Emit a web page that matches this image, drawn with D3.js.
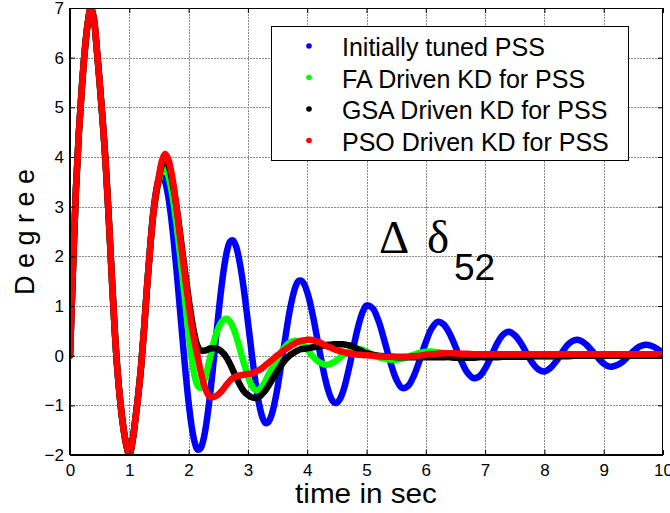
<!DOCTYPE html>
<html>
<head>
<meta charset="utf-8">
<script src="https://cdn.jsdelivr.net/npm/d3@7/dist/d3.min.js"></script>
<style>
  html, body { margin: 0; padding: 0; background: #fff; }
  svg { display: block; }
  text { font-family: "Liberation Sans", Arial, sans-serif; fill: #000; }
</style>
</head>
<body>
<svg id="chart" width="670" height="513"></svg>
<script>
// Rotor angle deviation Δδ52 (degrees) after a disturbance, four PSS tunings.
// Samples every 0.05 s up to 4.95 s, then every 0.1 s up to 10 s.
const time = d3.range(100).map(i => +(i * 0.05).toFixed(2))
  .concat(d3.range(51).map(i => +(5 + i * 0.1).toFixed(1)));

// First swing (0 – 1.35 s) is common to every controller.
const firstSwing = [0, 1.75, 3.35, 4.5, 5.4, 6.15, 6.7, 7.0, 6.8, 6.2,
  5.5, 4.75, 3.9, 2.85, 1.7, 0.6, -0.3, -0.95, -1.45, -1.8,
  -2.0, -1.75, -1.3, -0.8, -0.2, 0.55, 1.4, 2.15];

const initialTuned = firstSwing.concat([
  2.85, 3.3, 3.55, 3.6, 3.51, 3.25, 2.84, 2.30, 1.67, 0.99,
  0.30, -0.36, -0.94, -1.41, -1.73, -1.89, -1.87, -1.69, -1.36, -0.91,
  -0.37, 0.22, 0.80, 1.34, 1.79, 2.12, 2.30, 2.32, 2.20, 1.95,
  1.60, 1.17, 0.68, 0.19, -0.29, -0.71, -1.04, -1.26, -1.36, -1.33,
  -1.19, -0.95, -0.64, -0.27, 0.12, 0.51, 0.87, 1.16, 1.38, 1.50,
  1.51, 1.44, 1.28, 1.06, 0.78, 0.47, 0.15, -0.16, -0.45, -0.68,
  -0.85, -0.94, -0.95, -0.88, -0.74, -0.53, -0.28, 0.00, 0.28, 0.54,
  0.76, 0.92,
  1.01, 0.96, 0.71, 0.31, -0.12, -0.47, -0.65, -0.61, -0.40, -0.08,
  0.27, 0.55, 0.68, 0.63, 0.45, 0.18, -0.11, -0.34, -0.45, -0.42,
  -0.26, -0.02, 0.24, 0.42, 0.48, 0.41, 0.26, 0.05, -0.15, -0.28,
  -0.32, -0.25, -0.11, 0.07, 0.23, 0.31, 0.31, 0.23, 0.10, -0.04,
  -0.16, -0.22, -0.20, -0.14, -0.03, 0.09, 0.18, 0.22, 0.20, 0.14,
  0.05]);

const faDriven = firstSwing.concat([
  2.8, 3.22, 3.52, 3.74, 3.8, 3.66, 3.4, 3.05, 2.6, 2.1,
  1.55, 1.0, 0.45, -0.05, -0.4, -0.6, -0.65, -0.55, -0.35, -0.1,
  0.15, 0.38, 0.55, 0.67, 0.73, 0.74, 0.68, 0.57, 0.4, 0.2,
  -0.02, -0.22, -0.42, -0.57, -0.67, -0.7, -0.67, -0.6, -0.5, -0.38,
  -0.27, -0.16, -0.05, 0.05, 0.14, 0.21, 0.26, 0.29, 0.3, 0.29,
  0.25, 0.2, 0.13, 0.05, -0.02, -0.08, -0.13, -0.16, -0.18, -0.18,
  -0.16, -0.13, -0.09, -0.04, 0.01, 0.05, 0.09, 0.12, 0.14, 0.14,
  0.13, 0.11,
  0.08, 0.02, -0.03, -0.06, -0.08, -0.08, -0.06, -0.02, 0.02, 0.06,
  0.08, 0.08, 0.07, 0.05, 0.02, 0.0, -0.02, -0.03, -0.03, -0.02,
  -0.01, 0.0, 0.01, 0.02, 0.02, 0.02, 0.01, 0.0, 0.0, -0.01,
  -0.01, -0.01, 0.0, 0.0, 0.01, 0.01, 0.01, 0.0, 0.0, 0.0,
  0.0, 0.0, 0.0, 0.0, 0.0, 0.0, 0.0, 0.0, 0.0, 0.0,
  0.0]);

const gsaDriven = firstSwing.concat([
  2.8, 3.25, 3.58, 3.85, 3.95, 3.87, 3.66, 3.35, 2.97, 2.52,
  2.05, 1.6, 1.15, 0.75, 0.42, 0.2, 0.11, 0.1, 0.11, 0.14,
  0.15, 0.15, 0.13, 0.09, 0.03, -0.06, -0.17, -0.3, -0.43, -0.55,
  -0.66, -0.74, -0.79, -0.83, -0.85, -0.85, -0.82, -0.76, -0.69, -0.6,
  -0.5, -0.4, -0.3, -0.21, -0.13, -0.06, 0.0, 0.04, 0.08, 0.11,
  0.13, 0.14, 0.15, 0.16, 0.17, 0.18, 0.19, 0.2, 0.21, 0.22,
  0.22, 0.23, 0.23, 0.23, 0.23, 0.22, 0.21, 0.19, 0.16, 0.13,
  0.1, 0.07,
  0.05, 0.02, 0.0, -0.01, -0.02, -0.03, -0.03, -0.03, -0.03, -0.03,
  -0.03, -0.03, -0.03, -0.03, -0.03, -0.04, -0.04, -0.04, -0.04, -0.03,
  -0.03, -0.03, -0.03, -0.02, -0.02, -0.02, -0.02, -0.02, -0.01, -0.01,
  -0.01, -0.01, -0.01, -0.01, -0.01, 0.0, 0.0, 0.0, 0.0, 0.0,
  0.0, 0.0, 0.0, 0.0, 0.0, 0.0, 0.0, 0.0, 0.0, 0.0,
  0.0]);

const psoDriven = firstSwing.concat([
  2.8, 3.28, 3.62, 3.92, 4.06, 3.98, 3.75, 3.4, 2.95, 2.45,
  1.98, 1.5, 1.05, 0.62, 0.28, 0.0, -0.3, -0.55, -0.72, -0.82,
  -0.84, -0.82, -0.78, -0.72, -0.65, -0.57, -0.5, -0.45, -0.42, -0.4,
  -0.39, -0.38, -0.37, -0.36, -0.34, -0.31, -0.28, -0.24, -0.19, -0.14,
  -0.09, -0.04, 0.01, 0.05, 0.1, 0.14, 0.18, 0.22, 0.25, 0.28,
  0.3, 0.31, 0.32, 0.32, 0.31, 0.29, 0.27, 0.24, 0.21, 0.18,
  0.16, 0.13, 0.11, 0.09, 0.08, 0.06, 0.05, 0.04, 0.03, 0.02,
  0.02, 0.01,
  0.01, 0.0, -0.01, -0.02, -0.02, -0.02, -0.02, -0.02, -0.01, 0.0,
  0.02, 0.03, 0.04, 0.05, 0.05, 0.05, 0.04, 0.04, 0.03, 0.03,
  0.03, 0.03, 0.03, 0.03, 0.03, 0.03, 0.03, 0.03, 0.03, 0.03,
  0.03, 0.03, 0.03, 0.03, 0.03, 0.03, 0.03, 0.03, 0.03, 0.03,
  0.03, 0.03, 0.03, 0.03, 0.03, 0.03, 0.03, 0.03, 0.03, 0.03,
  0.03]);

const seriesNames = ["Initially tuned PSS", "FA Driven KD for PSS",
  "GSA Driven KD for PSS", "PSO Driven KD for PSS"];
const seriesColors = ["#0000ff", "#00ff00", "#000000", "#ff0000"];
const seriesValues = [initialTuned, faDriven, gsaDriven, psoDriven];

const xTicks = [0, 1, 2, 3, 4, 5, 6, 7, 8, 9, 10];
const yTicks = [-2, -1, 0, 1, 2, 3, 4, 5, 6, 7];

const svg = d3.select("#chart");
const W = 670, H = 513;
const m = { left: 70, right: 7, top: 8, bottom: 58 };
const pw = W - m.left - m.right, ph = H - m.top - m.bottom;

svg.append("rect").attr("width", W).attr("height", H).attr("fill", "#fff");

const x = d3.scaleLinear().domain([0, 10]).range([m.left, m.left + pw]);
const y = d3.scaleLinear().domain([-2, 7]).range([m.top + ph, m.top]);

// dotted grid
const grid = svg.append("g").attr("stroke", "#8a8a8a").attr("stroke-width", 1)
  .attr("stroke-dasharray", "1.5,1.5").attr("shape-rendering", "crispEdges");
grid.selectAll("line.gx").data(xTicks.slice(1, -1)).join("line")
  .attr("x1", d => Math.round(x(d)) + 0.5).attr("x2", d => Math.round(x(d)) + 0.5)
  .attr("y1", m.top).attr("y2", m.top + ph);
grid.selectAll("line.gy").data(yTicks.slice(1, -1)).join("line")
  .attr("y1", d => Math.round(y(d)) + 0.5).attr("y2", d => Math.round(y(d)) + 0.5)
  .attr("x1", m.left).attr("x2", m.left + pw);

// curves
svg.append("clipPath").attr("id", "plotClip").append("rect")
  .attr("x", m.left).attr("y", m.top).attr("width", pw).attr("height", ph);

const line = d3.line()
  .x((d, i) => x(time[i]))
  .y(d => y(d))
  .curve(d3.curveCatmullRom.alpha(0.5));

svg.append("g").attr("clip-path", "url(#plotClip)")
  .selectAll("path").data(seriesValues).join("path")
  .attr("d", d => line(d))
  .attr("fill", "none")
  .attr("stroke", (d, i) => seriesColors[i])
  .attr("stroke-width", 6.5)
  .attr("stroke-linecap", "round")
  .attr("stroke-linejoin", "round");

// axes with inward ticks
const tickLen = 5;
const bottom = svg.append("g").attr("transform", `translate(0,${m.top + ph})`)
  .call(d3.axisBottom(x).tickValues(xTicks).tickSizeInner(-tickLen).tickSizeOuter(0).tickPadding(9));
const left = svg.append("g").attr("transform", `translate(${m.left},0)`)
  .call(d3.axisLeft(y).tickValues(yTicks).tickSizeInner(-tickLen).tickSizeOuter(0).tickPadding(6));
svg.append("g").attr("transform", `translate(0,${m.top})`)
  .call(d3.axisTop(x).tickValues(xTicks).tickSizeInner(-tickLen).tickSizeOuter(0).tickFormat(""));
svg.append("g").attr("transform", `translate(${m.left + pw},0)`)
  .call(d3.axisRight(y).tickValues(yTicks).tickSizeInner(-tickLen).tickSizeOuter(0).tickFormat(""));

svg.selectAll(".domain").remove();
svg.selectAll(".tick line").attr("stroke", "#000");
bottom.selectAll("text").style("font-size", "17px").style("font-family", "Liberation Sans, Arial, sans-serif");
left.selectAll("text").style("font-size", "17px").style("font-family", "Liberation Sans, Arial, sans-serif");

// axes box
svg.append("rect").attr("x", m.left + 0.5).attr("y", m.top + 0.5)
  .attr("width", pw - 1).attr("height", ph - 1)
  .attr("fill", "none").attr("stroke", "#000").attr("stroke-width", 1);
svg.append("line").attr("x1", m.left).attr("x2", m.left + pw)
  .attr("y1", m.top + ph).attr("y2", m.top + ph).attr("stroke", "#000").attr("stroke-width", 2.2);
svg.append("line").attr("x1", m.left).attr("x2", m.left)
  .attr("y1", m.top).attr("y2", m.top + ph).attr("stroke", "#000").attr("stroke-width", 2);

// axis titles
svg.append("text").attr("x", 366).attr("y", 503)
  .attr("text-anchor", "middle").style("font-size", "27px")
  .attr("transform", "translate(366,0) scale(1.1,1) translate(-366,0)")
  .text("time in sec");
svg.append("text")
  .attr("transform", "translate(34,232) rotate(-90)")
  .attr("text-anchor", "middle").style("font-size", "27px")
  .text("D e g r e e");

// annotation
const ann = svg.append("g");
ann.append("text").attr("x", 379).attr("y", 253)
  .style("font-family", "Liberation Serif, Times New Roman, serif").style("font-size", "47px")
  .text("Δ");
ann.append("text").attr("x", 427).attr("y", 253)
  .style("font-family", "Liberation Serif, Times New Roman, serif").style("font-size", "47px")
  .text("δ");
ann.append("text").attr("x", 454).attr("y", 280)
  .style("font-size", "37px").text("52");

// legend
const lg = svg.append("g");
lg.append("rect").attr("x", 271.5).attr("y", 26.5).attr("width", 357).attr("height", 134)
  .attr("fill", "#fff").attr("stroke", "#000").attr("stroke-width", 1);
const rows = lg.selectAll("g.row").data(seriesNames).join("g")
  .attr("transform", (d, i) => `translate(0,${56 + i * 31.5})`);
rows.append("circle").attr("cx", 309).attr("cy", -10).attr("r", 2.8)
  .attr("fill", (d, i) => seriesColors[i]);
rows.append("text").attr("x", 342).attr("y", 0)
  .style("font-size", "25px").text(d => d);
</script>
</body>
</html>
